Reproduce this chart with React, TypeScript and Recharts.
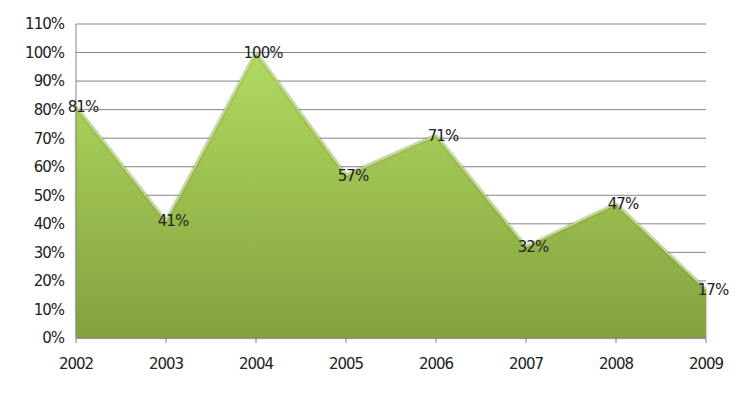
import React from 'react';
import { AreaChart, Area, XAxis, YAxis, CartesianGrid, LabelList } from 'recharts';

const years = ['2002', '2003', '2004', '2005', '2006', '2007', '2008', '2009'];
const shares = [81, 41, 100, 57, 71, 32, 47, 17];
const yTicks = [0, 10, 20, 30, 40, 50, 60, 70, 80, 90, 100, 110];

const data = years.map((year, i) => ({ year, value: shares[i] }));

const FONT = 'DejaVu Sans';
const axisFont = { fontFamily: FONT, fontSize: 15, fill: '#222', letterSpacing: -1 };

const PointLabel = (props: any) => {
  const { x, y, value } = props;
  return (
    <text
      x={x + 7}
      y={y + 1}
      textAnchor="middle"
      dominantBaseline="middle"
      fontFamily={FONT}
      fontSize={15}
      letterSpacing={-1}
      fill="#222"
    >
      {value}%
    </text>
  );
};

const App: React.FC = () => {
  return (
    <div style={{ position: 'fixed', left: 0, top: 0, width: 748, height: 399, background: '#fff' }}>
      <AreaChart
        width={748}
        height={399}
        data={data}
        margin={{ top: 24, right: 42, bottom: 30, left: 0 }}
      >
        <defs>
          <linearGradient id="greenFill" x1="0" y1="0" x2="0" y2="1">
            <stop offset="0%" stopColor="#b2da60" />
            <stop offset="100%" stopColor="#83a13e" />
          </linearGradient>
          <filter id="shade" x="-5%" y="-5%" width="110%" height="115%">
            <feDropShadow dx="0" dy="0" stdDeviation="1.2" floodColor="#555" floodOpacity="0.7" />
          </filter>
        </defs>
        <CartesianGrid vertical={false} stroke="#868686" strokeWidth={1} />
        <XAxis
          dataKey="year"
          tick={axisFont}
          tickSize={5}
          tickMargin={15}
          height={31}
          axisLine={{ stroke: '#868686' }}
          tickLine={{ stroke: '#868686' }}
        />
        <YAxis
          domain={[0, 110]}
          ticks={yTicks}
          tickFormatter={(v: number) => `${v}%`}
          tick={axisFont}
          tickLine={false}
          tickSize={0}
          tickMargin={12}
          width={76}
          axisLine={{ stroke: '#868686' }}
          interval={0}
        />
        <Area
          type="linear"
          dataKey="value"
          stroke="#c2e27c"
          strokeWidth={1.5}
          fill="url(#greenFill)"
          fillOpacity={1}
          filter="url(#shade)"
          isAnimationActive={false}
        >
          <LabelList dataKey="value" content={<PointLabel />} />
        </Area>
      </AreaChart>
    </div>
  );
};

export default App;
